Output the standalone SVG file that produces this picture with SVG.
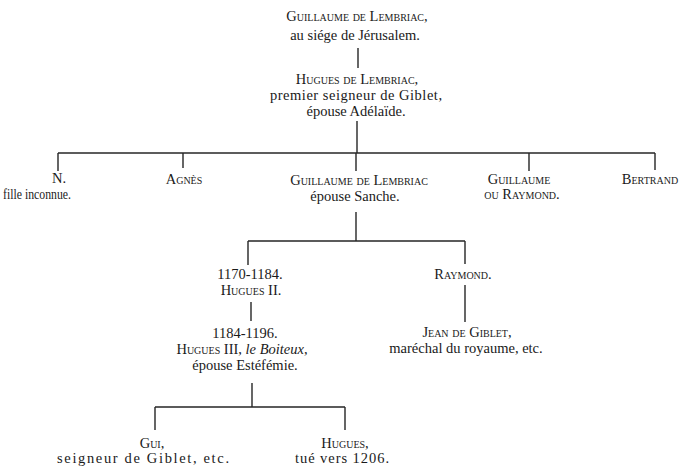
<svg xmlns="http://www.w3.org/2000/svg" width="684" height="466" viewBox="0 0 684 466">
  <style>
    text { font-family: "Liberation Serif", "Times New Roman", serif; font-size: 14.5px; fill: #1a1a1a; text-anchor: middle; }
    .sc { font-variant: small-caps; }
    .it { font-style: italic; }
    .start { text-anchor: start; }
    .edge { stroke: #262626; stroke-width: 1.4; fill: none; }
  </style>
  <rect width="684" height="466" fill="#ffffff"/>

  <!-- lineage connectors -->
  <g id="connectors">
    <path class="edge" d="M358 48 V68"/>
    <path class="edge" d="M357 121 V153"/>
    <path class="edge" d="M58 153 H655"/>
    <path class="edge" d="M58 153 V171 M183 153 V168 M356 153 V171 M529 153 V171 M655 153 V170"/>
    <path class="edge" d="M356 212 V241"/>
    <path class="edge" d="M248 241 H465 M248 241 V265 M465 241 V264"/>
    <path class="edge" d="M251 302 V321"/>
    <path class="edge" d="M465 285 V322"/>
    <path class="edge" d="M252 383 V407"/>
    <path class="edge" d="M155 407 H345 M155 407 V430 M345 407 V430"/>
  </g>

  <g id="guillaume-i">
    <text x="357" y="21" class="sc">Guillaume de Lembriac,</text>
    <text x="355" y="40">au siége de Jérusalem.</text>
  </g>

  <g id="hugues-i">
    <text x="357" y="84" class="sc">Hugues de Lembriac,</text>
    <text x="356" y="100" textLength="172">premier seigneur de Giblet,</text>
    <text x="356" y="116">épouse Adélaïde.</text>
  </g>

  <g id="n-fille">
    <text x="59" y="183">N.</text>
    <text x="3" y="199" class="start" textLength="68" lengthAdjust="spacingAndGlyphs">fille inconnue.</text>
  </g>

  <g id="agnes">
    <text x="184" y="184" class="sc">Agnès</text>
  </g>

  <g id="guillaume-ii">
    <text x="359" y="185" class="sc">Guillaume de Lembriac</text>
    <text x="355" y="201">épouse Sanche.</text>
  </g>

  <g id="guillaume-raymond">
    <text x="519" y="184" class="sc">Guillaume</text>
    <text x="522" y="199" class="sc">ou Raymond.</text>
  </g>

  <g id="bertrand">
    <text x="650" y="184" class="sc">Bertrand</text>
  </g>

  <g id="hugues-ii">
    <text x="250" y="279">1170-1184.</text>
    <text x="251" y="295" class="sc">Hugues II.</text>
  </g>

  <g id="raymond">
    <text x="463" y="279" class="sc">Raymond.</text>
  </g>

  <g id="hugues-iii">
    <text x="245" y="338">1184-1196.</text>
    <text x="242" y="354"><tspan class="sc">Hugues III</tspan>, <tspan class="it">le Boiteux</tspan>,</text>
    <text x="245" y="370">épouse Estéfémie.</text>
  </g>

  <g id="jean">
    <text x="467" y="337" class="sc">Jean de Giblet,</text>
    <text x="466" y="353">maréchal du royaume, etc.</text>
  </g>

  <g id="gui">
    <text x="152" y="448" class="sc">Gui,</text>
    <text x="143" y="463" textLength="172">seigneur de Giblet, etc.</text>
  </g>

  <g id="hugues-iv">
    <text x="345" y="448" class="sc">Hugues,</text>
    <text x="342" y="463" textLength="94">tué vers 1206.</text>
  </g>
</svg>
